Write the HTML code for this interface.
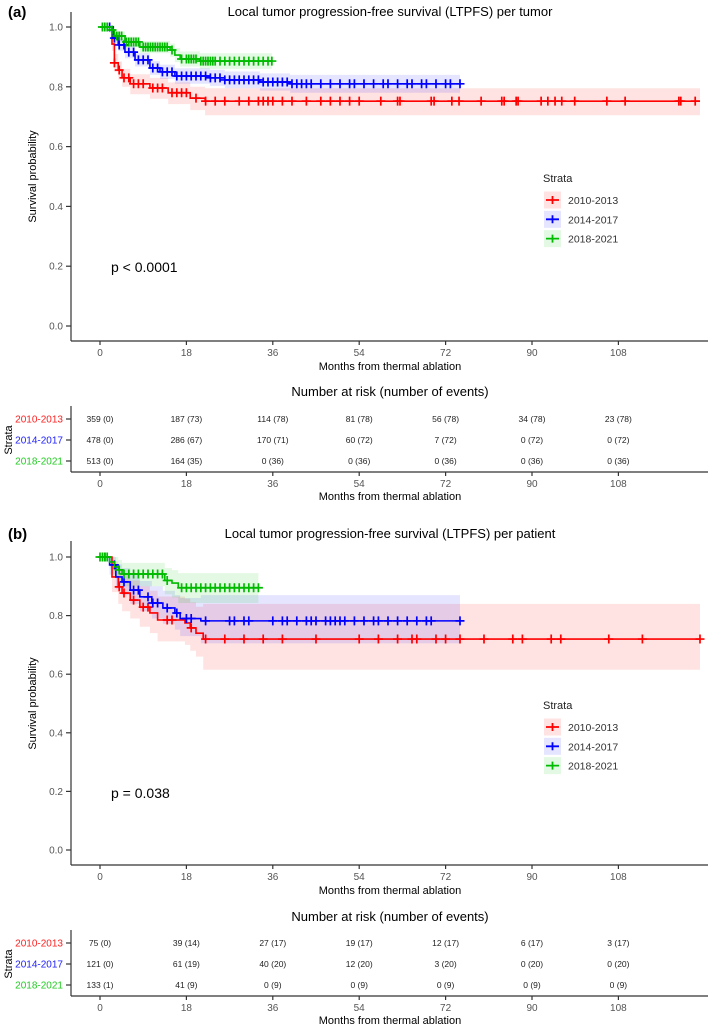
<!DOCTYPE html>
<html><head><meta charset="utf-8"><style>
body{margin:0;background:#fff}
svg{display:block;font-family:"Liberation Sans",sans-serif}
</style></head><body>
<svg id="chart" width="708" height="1032" viewBox="0 0 708 1032" xmlns="http://www.w3.org/2000/svg"></svg>
<script>
// ---------- data ----------
const strataNames = ["2010-2013","2014-2017","2018-2021"];
const xTicks = [0,18,36,54,72,90,108];
const yTicks = [0,0.2,0.4,0.6,0.8,1.0];
const yTickLabels = ["0.0","0.2","0.4","0.6","0.8","1.0"];
// Panel A
const aRedT = [0,2.5,3,3.8,4.6,6.3,10.4,14.2,18.8,21.9,125];
const aRedS = [1,0.943,0.88,0.856,0.83,0.81,0.796,0.78,0.762,0.752,0.752];
const aRedLo= [1,0.92,0.85,0.825,0.80,0.775,0.76,0.742,0.722,0.705,0.705];
const aRedHi= [1,0.965,0.91,0.885,0.86,0.842,0.83,0.815,0.80,0.795,0.795];
const aRedC = [3,4,5,6,7,8,9,11,12,13,15,16,17,18,20,22,24,26,29,31,33,34,35,36,38,40,43,46,48,50,52,54,58.5,62,62.5,69,69.6,73.3,74.8,79.4,83.7,84.2,86.7,87.1,91.9,93.3,94.8,96.2,98.9,105.6,109.4,120.6,121,124];
const aBlueT = [0,2.7,3.8,5.2,7.3,10.4,12.5,15.6,22.9,26,33.3,39.6,75];
const aBlueS = [1,0.963,0.94,0.916,0.89,0.863,0.85,0.836,0.83,0.823,0.816,0.81,0.81];
const aBlueLo= [1,0.945,0.92,0.895,0.868,0.84,0.826,0.81,0.803,0.795,0.787,0.78,0.78];
const aBlueHi= [1,0.98,0.96,0.938,0.912,0.886,0.874,0.862,0.857,0.851,0.845,0.84,0.84];
const aBlueC = [2,3,4,5,6,7,8,9,10,11,12,13,14,15,16,17,18,19,20,21,22,23,24,25,26,27,28,29,30,31,32,33,34,35,36,37,38,39,40,41,42,43,44,46,48,50,52,53,55,57,59,60,62,64,65,67,68,70,72,73,75];
const aGreenT = [0,2,3,5.2,8.3,14.6,15.6,16.7,20.8,35.8];
const aGreenS = [1,0.99,0.97,0.95,0.933,0.923,0.906,0.893,0.886,0.886];
const aGreenLo= [1,0.98,0.955,0.932,0.912,0.9,0.882,0.868,0.86,0.86];
const aGreenHi= [1,1,0.985,0.968,0.953,0.945,0.93,0.918,0.912,0.912];
const aGreenC = [0.5,1,1.5,2.5,3.5,4,4.5,5.5,6,6.5,7,7.5,8,9,9.5,10,10.5,11,11.5,12,12.5,13,13.5,14,15,17,18,18.5,19,19.5,20,21,21.5,22,22.5,23,23.5,24,25,26,27,28,29,30,31,32,33,34,35,35.8];
// Panel B
const bRedT = [0,2.5,3.8,4.6,6.3,8.3,10.4,12,17.7,18.8,20,21.5,125];
const bRedS = [1,0.932,0.898,0.877,0.853,0.829,0.809,0.785,0.775,0.758,0.74,0.72,0.72];
const bRedLo= [1,0.88,0.84,0.815,0.79,0.762,0.74,0.712,0.70,0.68,0.66,0.615,0.615];
const bRedHi= [1,0.985,0.96,0.94,0.92,0.9,0.885,0.865,0.858,0.845,0.83,0.84,0.84];
const bRedC = [1,4,5,7,9,10,14,15,19,22,26,30,34,38,45,54,58,62,65,66,70,72,75,80,86,88,94,96,106,113,125];
const bBlueT = [0,2,3.3,4.6,6.3,8.3,10.8,13.1,15.6,16.7,21,75];
const bBlueS = [1,0.973,0.932,0.915,0.887,0.864,0.843,0.826,0.809,0.79,0.782,0.782];
const bBlueLo= [1,0.94,0.89,0.87,0.84,0.815,0.79,0.772,0.752,0.73,0.705,0.705];
const bBlueHi= [1,1,0.975,0.962,0.94,0.918,0.9,0.885,0.87,0.86,0.87,0.87];
const bBlueC = [1,3,5,7,8,10,11,12,14,16,18,19,22,27,28,30,31,36,38,39,41,43,44,45,47,48,49,50,51,53,55,57,58,60,62,64,66,68,69,75];
const bGreenT = [0,2,3,3.8,4.6,13.5,15,16.3,33];
const bGreenS = [1,0.983,0.966,0.956,0.942,0.92,0.911,0.895,0.895];
const bGreenLo= [1,0.96,0.935,0.92,0.9,0.873,0.862,0.843,0.843];
const bGreenHi= [1,1,1,0.99,0.98,0.962,0.955,0.945,0.945];
const bGreenC = [0,0.5,1,1.5,4,5,6,7,8,9,10,11,12,13,14,17,18,19,20,21,22,23,24,25,26,27,28,29,30,31,32,33];
// risk tables
const aRisk = [["359 (0)","187 (73)","114 (78)","81 (78)","56 (78)","34 (78)","23 (78)"],
               ["478 (0)","286 (67)","170 (71)","60 (72)","7 (72)","0 (72)","0 (72)"],
               ["513 (0)","164 (35)","0 (36)","0 (36)","0 (36)","0 (36)","0 (36)"]];
const bRisk = [["75 (0)","39 (14)","27 (17)","19 (17)","12 (17)","6 (17)","3 (17)"],
               ["121 (0)","61 (19)","40 (20)","12 (20)","3 (20)","0 (20)","0 (20)"],
               ["133 (1)","41 (9)","0 (9)","0 (9)","0 (9)","0 (9)","0 (9)"]];

// ---------- drawing ----------
const NS="http://www.w3.org/2000/svg";
const svg=document.getElementById('chart');
const COL=["#FF0000","#0000FF","#00BB00"];
const FILL=["rgba(255,0,0,0.11)","rgba(0,0,255,0.10)","rgba(0,200,0,0.11)"];
const LAB=["#FF2020","#2020FF","#22CC22"];
function mk(tag,attrs,parent){const e=document.createElementNS(NS,tag);for(const k in attrs)e.setAttribute(k,attrs[k]);(parent||svg).appendChild(e);return e;}
function txt(s,attrs,parent){const e=mk('text',attrs,parent);e.textContent=s;return e;}
const xS=t=>100+t*4.8;

function panel(P){
  const g=mk('g',{});
  
  
  const yS=s=>P.y0-(P.y0-P.y1)*s;
  const lab=txt(P.label,{x:8,y:P.off+17,'font-size':15,'font-weight':'bold',fill:'#000'},g);
  
  const tt=txt(P.title,{x:390,y:P.off+16,'font-size':13,'text-anchor':'middle',fill:'#000'},g);
  
  P.series.forEach((s,i)=>{
    let top='',bot=[];
    for(let k=0;k<s.T.length;k++){
      const x0=xS(s.T[k]),x1=xS(k+1<s.T.length?s.T[k+1]:s.T[k]);
      top+=(k?'L':'M')+x0+','+yS(s.Hi[k])+'L'+x1+','+yS(s.Hi[k]);
      bot.unshift('L'+x1+','+yS(s.Lo[k])+'L'+x0+','+yS(s.Lo[k]));
    }
    const b=mk('path',{d:top+bot.join('')+'Z',fill:FILL[i],stroke:'none'},g);
    
  });
  P.series.forEach((s,i)=>{
    let d='';
    for(let k=0;k<s.T.length;k++){
      const x0=xS(s.T[k]),x1=xS(k+1<s.T.length?s.T[k+1]:s.T[k]);
      d+=(k?'L':'M')+x0+','+yS(s.S[k])+'L'+x1+','+yS(s.S[k]);
    }
    const l=mk('path',{d:d,fill:'none',stroke:COL[i],'stroke-width':1.6},g);
    
    const cg=mk('g',{stroke:COL[i],'stroke-width':1.7},g);
    
    s.C.forEach(t=>{
      let v=s.S[0];for(let k=0;k<s.T.length;k++){if(s.T[k]<=t)v=s.S[k];}
      const x=xS(t),y=yS(v);
      const m=mk('path',{d:`M${x-4.5},${y}H${x+4.5}M${x},${y-4.5}V${y+4.5}`},cg);
      
    });
  });
  const ax=mk('g',{stroke:'#333','stroke-width':1.2},g);
  
  mk('line',{x1:71,y1:P.axTop,x2:71,y2:P.axBot},ax);
  mk('line',{x1:71,y1:P.axBot,x2:708,y2:P.axBot},ax);
  yTicks.forEach((v,i)=>{
    mk('line',{x1:66,x2:71,y1:yS(v),y2:yS(v)},ax);
    const t=txt(yTickLabels[i],{x:63,y:yS(v)+3.5,'font-size':10,'text-anchor':'end',fill:'#555',stroke:'none'},g);
    
  });
  xTicks.forEach(v=>{
    mk('line',{x1:xS(v),x2:xS(v),y1:P.axBot,y2:P.axBot+4},ax);
    const t=txt(String(v),{x:xS(v),y:P.axBot+15,'font-size':10,'text-anchor':'middle',fill:'#555'},g);
    
  });
  const xt=txt('Months from thermal ablation',{x:390,y:P.axBot+29,'font-size':11,'text-anchor':'middle',fill:'#000'},g);
  
  const yc=(P.y0+P.y1)/2;
  const yt=txt('Survival probability',{x:36,y:yc,'font-size':11,'text-anchor':'middle',fill:'#000',transform:`rotate(-90 36 ${yc})`},g);
  
  const pv=txt(P.p,{x:111,y:P.pY+5,'font-size':14,fill:'#000'},g);
  
  const lg=mk('g',{},g);
  
  txt('Strata',{x:543,y:P.legY+4,'font-size':11,fill:'#222'},lg);
  strataNames.forEach((n,i)=>{
    const cy=P.legY+22+i*19.3;
    const e=mk('g',{},lg);
    
    mk('rect',{x:544,y:cy-8.5,width:17,height:17,fill:FILL[i]},e);
    mk('path',{d:`M546,${cy}H559M552.5,${cy-4}V${cy+4}`,stroke:COL[i],'stroke-width':1.8,fill:'none'},e);
    txt(n,{x:568,y:cy+4,'font-size':10.5,fill:'#333'},e);
  });
  const rg=mk('g',{},g);
  
  txt('Number at risk (number of events)',{x:390,y:P.riskTitle+5,'font-size':13,'text-anchor':'middle',fill:'#000'},rg);
  const rax=mk('g',{stroke:'#333','stroke-width':1.2},rg);
  mk('line',{x1:71,y1:P.rows[0]-13,x2:71,y2:P.tAxBot},rax);
  mk('line',{x1:71,y1:P.tAxBot,x2:708,y2:P.tAxBot},rax);
  P.risk.forEach((row,i)=>{
    const y=P.rows[i];
    mk('line',{x1:66,x2:71,y1:y,y2:y},rax);
    const l=txt(strataNames[i],{x:63,y:y+3.5,'font-size':10,'text-anchor':'end',fill:LAB[i]},rg);
    
    row.forEach((v,j)=>{
      const c=txt(v,{x:xS(xTicks[j]),y:y+3,'font-size':8.5,'text-anchor':'middle',fill:'#222'},rg);
      
    });
  });
  const sy=P.rows[1];
  txt('Strata',{x:12,y:sy,'font-size':11,'text-anchor':'middle',fill:'#000',transform:`rotate(-90 12 ${sy})`},rg);
  xTicks.forEach(v=>{
    mk('line',{x1:xS(v),x2:xS(v),y1:P.tAxBot,y2:P.tAxBot+4},rax);
    txt(String(v),{x:xS(v),y:P.tAxBot+15,'font-size':10,'text-anchor':'middle',fill:'#555'},rg);
  });
  txt('Months from thermal ablation',{x:390,y:P.tAxBot+28,'font-size':11,'text-anchor':'middle',fill:'#000'},rg);
}

panel({name:'panel-a-per-tumor',label:'(a)',off:0,title:'Local tumor progression-free survival (LTPFS) per tumor',
  y1:27,y0:326,axTop:12,axBot:341,p:'p < 0.0001',pY:267,legY:178,riskTitle:391,rows:[419,440,461],tAxBot:472,risk:aRisk,
  series:[{T:aRedT,S:aRedS,Lo:aRedLo,Hi:aRedHi,C:aRedC},{T:aBlueT,S:aBlueS,Lo:aBlueLo,Hi:aBlueHi,C:aBlueC},{T:aGreenT,S:aGreenS,Lo:aGreenLo,Hi:aGreenHi,C:aGreenC}]});
panel({name:'panel-b-per-patient',label:'(b)',off:522,title:'Local tumor progression-free survival (LTPFS) per patient',
  y1:557,y0:850,axTop:541,axBot:865,p:'p = 0.038',pY:793,legY:705,riskTitle:916,rows:[943,964,985],tAxBot:996,risk:bRisk,
  series:[{T:bRedT,S:bRedS,Lo:bRedLo,Hi:bRedHi,C:bRedC},{T:bBlueT,S:bBlueS,Lo:bBlueLo,Hi:bBlueHi,C:bBlueC},{T:bGreenT,S:bGreenS,Lo:bGreenLo,Hi:bGreenHi,C:bGreenC}]});
</script>
</body></html>
